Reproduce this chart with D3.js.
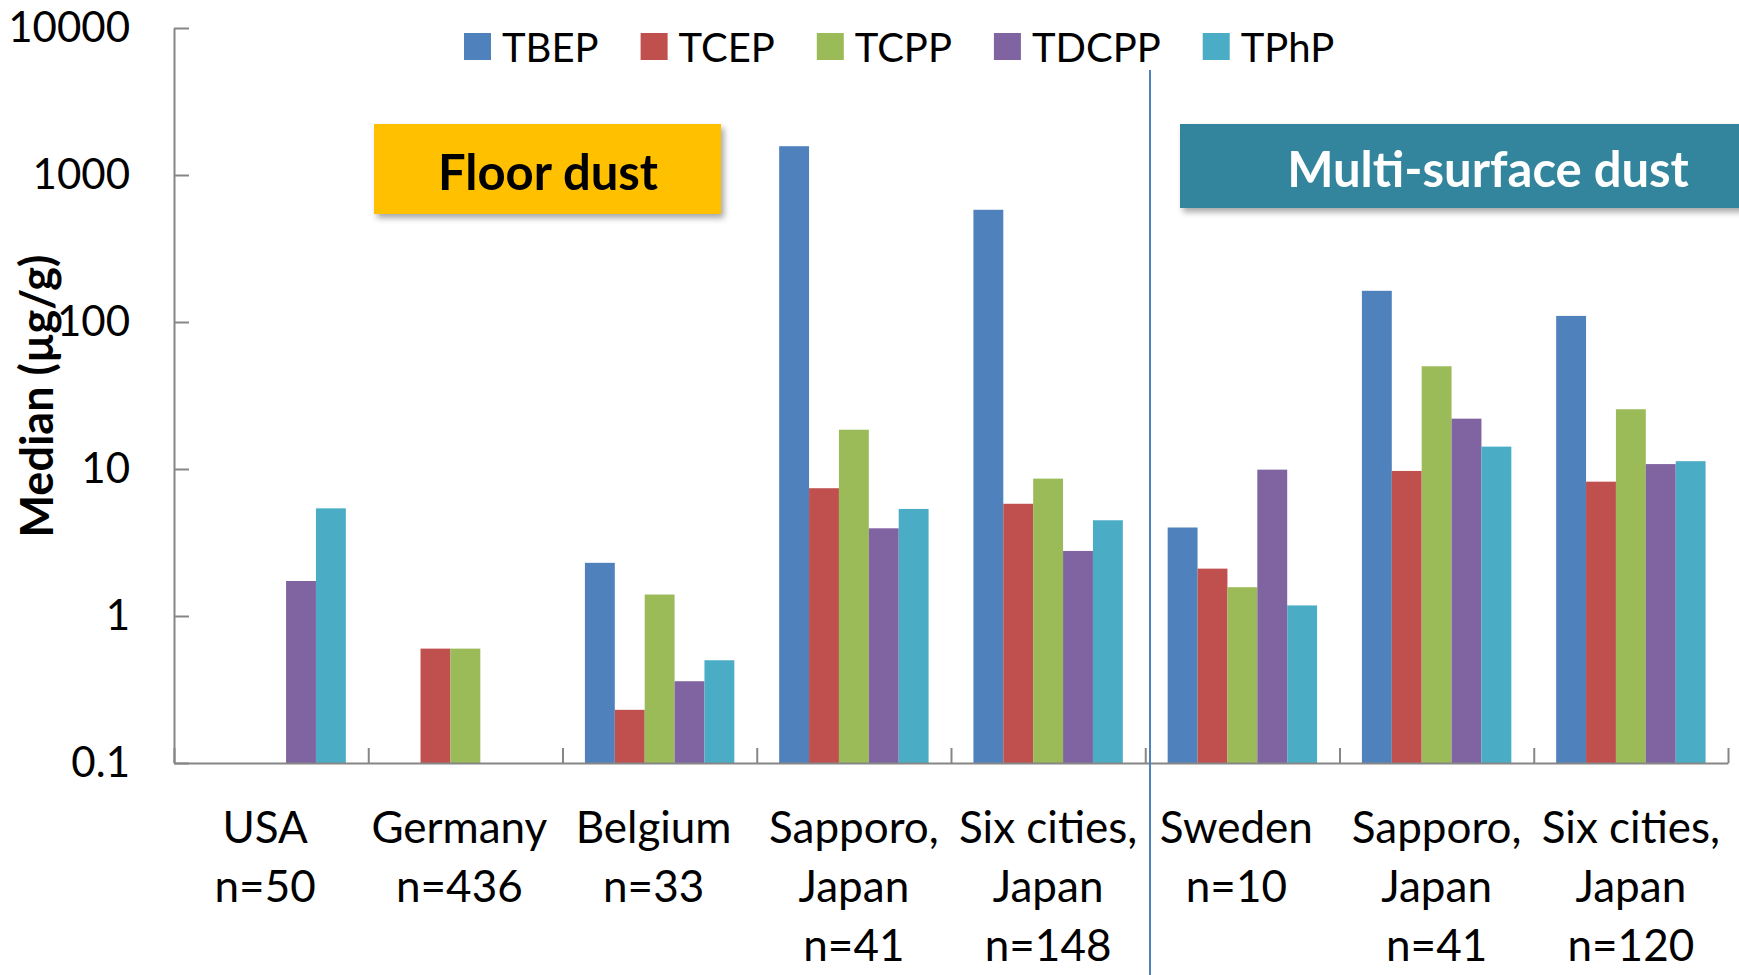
<!DOCTYPE html>
<html>
<head>
<meta charset="utf-8">
<script src="https://cdn.jsdelivr.net/npm/d3@7"></script>
<style>
  html, body { margin: 0; padding: 0; background: #ffffff; }
  svg { display: block; }
  text { font-family: Lato, "Open Sans", sans-serif; fill: #000; }
</style>
</head>
<body>
<svg id="chart" width="1739" height="975"></svg>
<script>
// ---- data ----
const categoryLines = [
  ["USA", "n=50"],
  ["Germany", "n=436"],
  ["Belgium", "n=33"],
  ["Sapporo,", "Japan", "n=41"],
  ["Six cities,", "Japan", "n=148"],
  ["Sweden", "n=10"],
  ["Sapporo,", "Japan", "n=41"],
  ["Six cities,", "Japan", "n=120"]
];
const seriesNames = ["TBEP", "TCEP", "TCPP", "TDCPP", "TPhP"];
const seriesColors = ["#4F81BD", "#C0504D", "#9BBB59", "#8064A2", "#4BACC6"];
const TBEP  = [null, null, 2.3, 1570, 580, 4.0, 163, 110];
const TCEP  = [null, 0.6, 0.23, 7.4, 5.8, 2.1, 9.7, 8.2];
const TCPP  = [null, 0.6, 1.4, 18.5, 8.6, 1.57, 50, 25.5];
const TDCPP = [1.73, null, 0.36, 3.95, 2.77, 9.9, 22, 10.8];
const TPhP  = [5.4, null, 0.5, 5.35, 4.48, 1.18, 14.2, 11.3];
const seriesValues = [TBEP, TCEP, TCPP, TDCPP, TPhP];
const yTickValues = [0.1, 1, 10, 100, 1000, 10000];
const yTickLabels = ["0.1", "1", "10", "100", "1000", "10000"];
const yTitle = "Median (µg/g)";
const groupLabels = ["Floor dust", "Multi-surface dust"];

// ---- layout ----
const svg = d3.select("#chart");
const plotL = 174, plotR = 1728, plotT = 28, plotB = 763;
const axisColor = "#868686";

const y = d3.scaleLog().domain([0.1, 10000]).range([plotB, plotT]);
const idx = d3.range(categoryLines.length);
const x0 = d3.scaleBand().domain(idx).range([plotL, plotR]).paddingInner(0).paddingOuter(0);
const x1 = d3.scaleBand().domain(seriesNames).range([0, x0.bandwidth()]).paddingInner(0).paddingOuter(0.75);
const xb = d3.scaleLinear().domain([0, categoryLines.length]).range([plotL, plotR]);

// defs: drop shadow
const defs = svg.append("defs");
const f = defs.append("filter").attr("id", "shadow").attr("x", "-10%").attr("y", "-20%").attr("width", "130%").attr("height", "160%");
f.append("feDropShadow").attr("dx", 3).attr("dy", 4).attr("stdDeviation", 3).attr("flood-color", "#000").attr("flood-opacity", 0.35);

// bars
const barData = [];
seriesValues.forEach((arr, s) => arr.forEach((v, c) => { if (v != null) barData.push({ c, s, v }); }));
svg.append("g").selectAll("rect").data(barData).join("rect")
  .attr("x", d => x0(d.c) + x1(seriesNames[d.s]))
  .attr("width", x1.bandwidth())
  .attr("y", d => y(d.v))
  .attr("height", d => y(0.1) - y(d.v))
  .attr("fill", d => seriesColors[d.s]);

// y axis
const yAxis = d3.axisLeft(y)
  .tickValues(yTickValues)
  .tickFormat((d, i) => yTickLabels[i])
  .tickSizeInner(-15).tickSizeOuter(0).tickPadding(44);
const gy = svg.append("g").attr("transform", `translate(${plotL},0)`).call(yAxis);
gy.select(".domain").attr("stroke", axisColor).attr("stroke-width", 2);
gy.selectAll(".tick line").attr("stroke", axisColor).attr("stroke-width", 2);
gy.selectAll(".tick text").attr("font-size", 42).attr("font-family", "Lato, sans-serif").attr("fill", "#000");

// x axis (boundary ticks)
const xAxis = d3.axisBottom(xb).tickValues(d3.range(0, categoryLines.length + 1))
  .tickFormat("").tickSizeInner(-15).tickSizeOuter(0);
const gx = svg.append("g").attr("transform", `translate(0,${plotB})`).call(xAxis);
gx.select(".domain").attr("stroke", axisColor).attr("stroke-width", 2);
gx.selectAll(".tick line").attr("stroke", axisColor).attr("stroke-width", 2);

// category labels
const lineH = 59, firstLine = 826;
const cl = svg.append("g").selectAll("text").data(idx).join("text")
  .attr("text-anchor", "middle")
  .attr("font-size", 44)
  .attr("x", c => x0(c) + x0.bandwidth() / 2);
cl.selectAll("tspan").data(c => categoryLines[c].map((t, i) => ({ t, i, c }))).join("tspan")
  .attr("x", d => x0(d.c) + x0.bandwidth() / 2 - (categoryLines[d.c].length === 2 ? 6 : 0))
  .attr("y", d => firstLine + d.i * lineH)
  .attr("dominant-baseline", "central")
  .text(d => d.t);

// y title
svg.append("text")
  .attr("transform", `translate(36,396) rotate(-90)`)
  .attr("text-anchor", "middle").attr("dominant-baseline", "central")
  .attr("font-size", 45).attr("font-weight", "bold")
  .text(yTitle);

// divider line
svg.append("line").attr("x1", 1150).attr("x2", 1150).attr("y1", 70).attr("y2", 975)
  .attr("stroke", "#4F81BD").attr("stroke-width", 2);

// group label boxes
svg.append("rect").attr("x", 374).attr("y", 124).attr("width", 347).attr("height", 90)
  .attr("fill", "#FFC000").attr("filter", "url(#shadow)");
svg.append("text").attr("x", 548).attr("y", 171).attr("text-anchor", "middle").attr("dominant-baseline", "central")
  .attr("font-size", 49).attr("font-weight", "bold").attr("fill", "#000").text(groupLabels[0]);
svg.append("rect").attr("x", 1180).attr("y", 124).attr("width", 620).attr("height", 84)
  .attr("fill", "#31859C").attr("filter", "url(#shadow)");
svg.append("text").attr("x", 1488).attr("y", 168).attr("text-anchor", "middle").attr("dominant-baseline", "central")
  .attr("font-size", 49).attr("font-weight", "bold").style("fill", "#fff").text(groupLabels[1]);

// legend
const lg = svg.append("g");
let lx = 464;
seriesNames.forEach((name, i) => {
  lg.append("rect").attr("x", lx).attr("y", 33).attr("width", 27).attr("height", 27).attr("fill", seriesColors[i]);
  const t = lg.append("text").attr("x", lx + 38).attr("y", 47).attr("dominant-baseline", "central")
    .attr("font-size", 40).text(name);
  lx += 38 + t.node().getComputedTextLength() + 42;
});
</script>
</body>
</html>
